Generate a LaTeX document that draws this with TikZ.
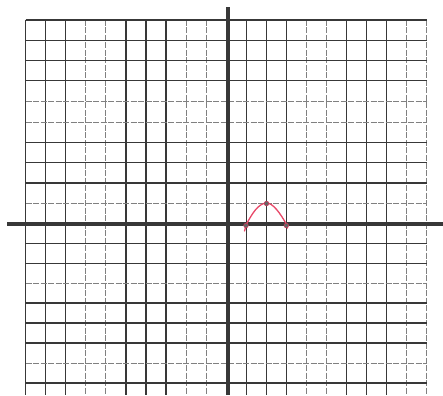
\documentclass[tikz,border=0pt]{standalone}
\begin{document}
\begin{tikzpicture}[x=1pt,y=-1pt,
  darkline/.style={draw=black!78,line width=1.3pt},
  lightline/.style={draw=black!50,line width=1pt,dash pattern=on 6pt off 1.5pt},
  axisline/.style={draw=black!78,line width=4pt},
  curveline/.style={draw={rgb,255:red,232;green,72;blue,104},line width=1.3pt,line cap=round,line join=round},
  ptdot/.style={circle,fill=black!60,draw={rgb,255:red,200;green,60;blue,90},line width=0.6pt,inner sep=0pt,minimum size=4.6pt}]
\useasboundingbox (0,0) rectangle (443,395);
\fill[white] (0,0) rectangle (443,395);
% vertical grid lines
\foreach \i in {0,1,2,5,6,7,11,12,13,16,17,18}
  \draw[darkline] ({25.7+20.05*\i},20) -- ({25.7+20.05*\i},395);
\foreach \i in {3,4,8,9,14,15,19,20}
  \draw[lightline] ({25.7+20.05*\i},20) -- ({25.7+20.05*\i},395);
% horizontal grid lines
\foreach \y in {20,40.3,60.5,80.7,142.6,162.8,183,243.5,263.5,303,323,343,383}
  \draw[darkline] (25.7,\y) -- (426.7,\y);
\foreach \y in {101.8,122.3,203.2,283.2,363.2}
  \draw[lightline] (25.7,\y) -- (426.7,\y);
% axes
\coordinate (xl) at (7,223.8);
\coordinate (xr) at (443,223.8);
\coordinate (yt) at (228,7.5);
\coordinate (yb) at (228,395);
\draw[axisline] (xl) -- (xr);
\draw[axisline] (yt) -- (yb);
% curve
\coordinate (c0) at (244.5,231);
\coordinate (c4) at (287.5,228);
\draw[curveline] (c0) -- (246.5,224) .. controls (252,214) and (258,203.5) .. (266.5,203)
  .. controls (273,203) and (280,213) .. (286.3,224) -- (c4);
\node[ptdot] (p1) at (246,225.5) {};
\node[ptdot] (p2) at (266.5,203.5) {};
\node[ptdot] (p3) at (286.3,225.5) {};
\end{tikzpicture}
\end{document}
